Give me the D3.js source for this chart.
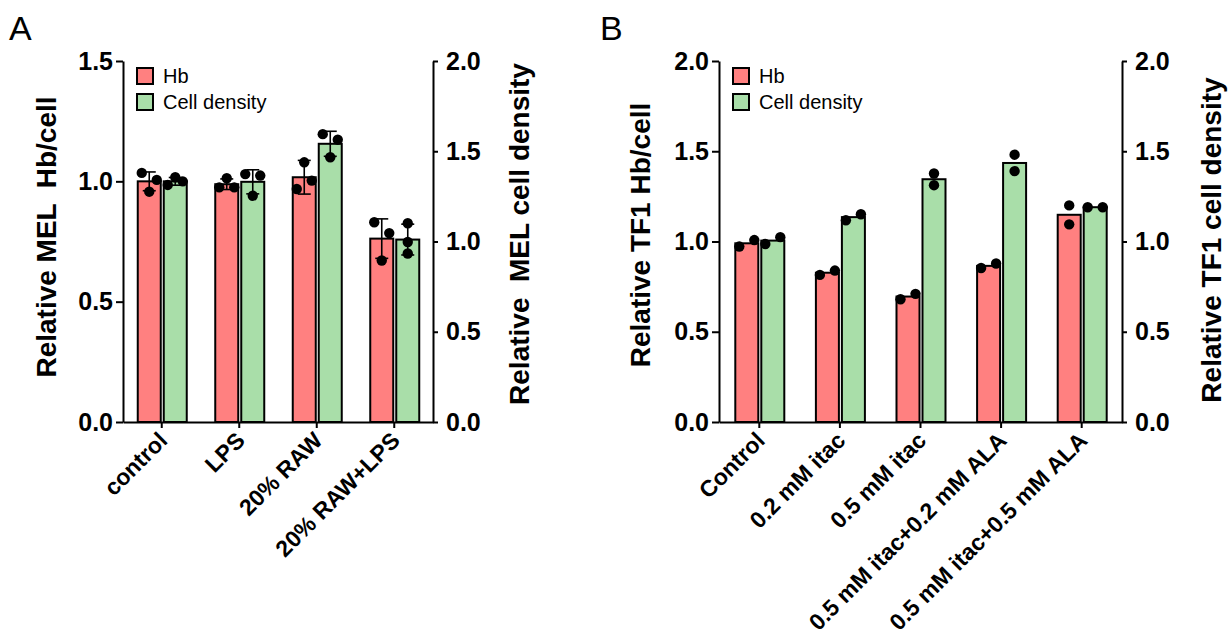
<!DOCTYPE html>
<html>
<head>
<meta charset="utf-8">
<script src="https://cdn.jsdelivr.net/npm/d3@7"></script>
<style>
  body { margin: 0; background: #fff; }
  svg { display: block; }
  text { font-family: Arial, "Liberation Sans", sans-serif; fill: #000; }
</style>
</head>
<body>
<svg id="chart" width="1230" height="639"></svg>
<script>
// ---------- Panel A: MEL cells ----------
const catsA = ["control", "LPS", "20% RAW", "20% RAW+LPS"];
const hbA = [1.000, 0.988, 1.017, 0.762];
const hbSdA = [0.039, 0.022, 0.070, 0.082];
const hbRepsA = [[1.035, 0.957, 1.006], [0.975, 1.013, 0.975], [0.968, 1.079, 1.003], [0.830, 0.671, 0.785]];
const densA = [1.000, 0.998, 1.156, 0.758];
const densSdA = [0.016, 0.050, 0.052, 0.064];
const densRepsA = [[0.985, 1.017, 1.000], [1.030, 0.940, 1.024], [1.196, 1.100, 1.173], [0.826, 0.748, 0.700]];
const ticksLeftA = [0, 0.5, 1.0, 1.5];
const ticksRightA = [0, 0.5, 1.0, 1.5, 2.0];

// ---------- Panel B: TF1 cells ----------
const catsB = ["Control", "0.2 mM itac", "0.5 mM itac", "0.5 mM itac+0.2 mM ALA", "0.5 mM itac+0.5 mM ALA"];
const hbB = [0.990, 0.827, 0.695, 0.865, 1.148];
const hbRepsB = [[0.972, 1.008], [0.815, 0.839], [0.680, 0.710], [0.853, 0.878], [1.200, 1.095]];
const densB = [1.005, 1.135, 1.345, 1.435, 1.190];
const densRepsB = [[0.986, 1.024], [1.118, 1.151], [1.377, 1.312], [1.481, 1.390], [1.190, 1.190]];
const ticksLeftB = [0, 0.5, 1.0, 1.5, 2.0];
const ticksRightB = [0, 0.5, 1.0, 1.5, 2.0];

const seriesNames = ["Hb", "Cell density"];
const seriesColors = ["#FF8080", "#A9DEA9"];

const svg = d3.select("#chart");
const FONT_TICK = 25, FONT_TITLE = 28, FONT_CAT = 23, FONT_LEG = 20;

// Spread replicate dots that sit too close vertically, GraphPad-style
function dotOffsets(pixY, minGap, spread) {
  const n = pixY.length;
  const parent = d3.range(n);
  const find = i => parent[i] === i ? i : (parent[i] = find(parent[i]));
  for (let i = 0; i < n; i++)
    for (let j = i + 1; j < n; j++)
      if (Math.abs(pixY[i] - pixY[j]) < minGap) parent[find(i)] = find(j);
  const groups = d3.group(d3.range(n), i => find(i));
  const off = new Array(n).fill(0);
  for (const members of groups.values()) {
    const m = members.length;
    if (m < 2) continue;
    members.sort((a, b) => a - b).forEach((idx, k) => {
      off[idx] = -spread + (2 * spread) * k / (m - 1);
    });
  }
  return off;
}

function drawPanel(cfg) {
  const g = svg.append("g");
  const yL = d3.scaleLinear().domain([0, cfg.maxLeft]).range([cfg.yBot, cfg.yTop]);
  const yR = d3.scaleLinear().domain([0, cfg.maxRight]).range([cfg.yBot, cfg.yTop]);
  const xb = d3.scaleBand().domain(cfg.cats).range([cfg.x0, cfg.x1]);
  const cx = c => xb(c) + xb.bandwidth() / 2;
  const barW = 23;
  const barX = [c => cx(c) - 24, c => cx(c) + 2];

  const series = [
    { vals: cfg.hb, sd: cfg.hbSd, reps: cfg.hbReps },
    { vals: cfg.dens, sd: cfg.densSd, reps: cfg.densReps }
  ];

  series.forEach((s, si) => {
    // bars
    g.selectAll(null).data(cfg.cats).enter().append("rect")
      .attr("x", c => barX[si](c))
      .attr("y", (c, i) => yL(s.vals[i]))
      .attr("width", barW)
      .attr("height", (c, i) => yL(0) - yL(s.vals[i]))
      .attr("fill", seriesColors[si])
      .attr("stroke", "#000")
      .attr("stroke-width", 2);

    // error bars (mean ± SD)
    if (s.sd) {
      cfg.cats.forEach((c, i) => {
        const xm = barX[si](c) + barW / 2;
        const yHi = yL(s.vals[i] + s.sd[i]), yLo = yL(s.vals[i] - s.sd[i]);
        const eg = g.append("g").attr("stroke", "#000").attr("stroke-width", 1.6);
        eg.append("line").attr("x1", xm).attr("x2", xm).attr("y1", yHi).attr("y2", yLo);
        eg.append("line").attr("x1", xm - 6.5).attr("x2", xm + 6.5).attr("y1", yHi).attr("y2", yHi);
        eg.append("line").attr("x1", xm - 6.5).attr("x2", xm + 6.5).attr("y1", yLo).attr("y2", yLo);
      });
    }

    // replicate dots
    cfg.cats.forEach((c, i) => {
      const xm = barX[si](c) + barW / 2;
      const py = s.reps[i].map(v => yL(v));
      const off = dotOffsets(py, 11.3, 7.5);
      g.selectAll(null).data(s.reps[i]).enter().append("circle")
        .attr("cx", (v, k) => xm + off[k])
        .attr("cy", v => yL(v))
        .attr("r", 5.2)
        .attr("fill", "#000");
    });
  });

  // axes
  const styleAxis = (sel, fs) => {
    sel.selectAll("path.domain").attr("stroke", "#000").attr("stroke-width", 2);
    sel.selectAll(".tick line").attr("stroke", "#000").attr("stroke-width", 2);
    sel.selectAll(".tick text").attr("font-size", fs).attr("font-weight", "bold")
      .attr("font-family", 'Arial, "Liberation Sans", sans-serif').attr("fill", "#000");
  };

  const axL = g.append("g").attr("transform", `translate(${cfg.x0},0)`)
    .call(d3.axisLeft(yL).tickValues(cfg.ticksLeft).tickFormat(d3.format(".1f"))
      .tickSize(7).tickSizeOuter(0).tickPadding(3));
  styleAxis(axL, FONT_TICK);

  const axR = g.append("g").attr("transform", `translate(${cfg.x1},0)`)
    .call(d3.axisRight(yR).tickValues(cfg.ticksRight).tickFormat(d3.format(".1f"))
      .tickSize(5).tickSizeOuter(0).tickPadding(8));
  styleAxis(axR, FONT_TICK);

  const axB = g.append("g").attr("transform", `translate(0,${cfg.yBot})`)
    .call(d3.axisBottom(xb).tickSize(6).tickSizeOuter(0));
  styleAxis(axB, FONT_CAT);
  axB.selectAll(".tick text")
    .attr("x", 0).attr("y", 0).attr("dy", 0)
    .attr("text-anchor", "end")
    .attr("transform", "translate(7,20) rotate(-45)");

  // axis titles
  g.append("text")
    .attr("transform", `translate(${cfg.titleLeftX},${cfg.titleLeftY}) rotate(-90)`)
    .attr("text-anchor", "middle").attr("dy", "0.35em")
    .attr("font-size", FONT_TITLE).attr("font-weight", "bold")
    .attr("xml:space", "preserve").style("white-space", "pre")
    .text(cfg.titleLeft);
  g.append("text")
    .attr("transform", `translate(${cfg.titleRightX},${cfg.titleRightY}) rotate(-90)`)
    .attr("text-anchor", "middle").attr("dy", "0.35em")
    .attr("font-size", FONT_TITLE).attr("font-weight", "bold")
    .attr("xml:space", "preserve").style("white-space", "pre")
    .text(cfg.titleRight);

  // legend
  const lg = g.append("g").attr("transform", `translate(${cfg.x0 + 14},${cfg.yTop + 7})`);
  seriesNames.forEach((name, i) => {
    lg.append("rect").attr("x", 0).attr("y", i * 26).attr("width", 16).attr("height", 16)
      .attr("fill", seriesColors[i]).attr("stroke", "#000").attr("stroke-width", 2);
    lg.append("text").attr("x", 26).attr("y", i * 26 + 8).attr("dy", "0.35em")
      .attr("font-size", FONT_LEG).text(name);
  });

  // panel letter
  svg.append("text").attr("x", cfg.letterX).attr("y", 40)
    .attr("font-size", 34).text(cfg.letter);
}

drawPanel({
  letter: "A", letterX: 9,
  cats: catsA, hb: hbA, hbSd: hbSdA, hbReps: hbRepsA,
  dens: densA, densSd: densSdA, densReps: densRepsA,
  ticksLeft: ticksLeftA, ticksRight: ticksRightA,
  maxLeft: 1.5, maxRight: 2.0,
  x0: 123, x1: 433, yTop: 61, yBot: 422,
  titleLeft: "Relative MEL  Hb/cell", titleLeftX: 46, titleLeftY: 237,
  titleRight: "Relative  MEL cell density", titleRightX: 519, titleRightY: 234
});

drawPanel({
  letter: "B", letterX: 600,
  cats: catsB, hb: hbB, hbSd: null, hbReps: hbRepsB,
  dens: densB, densSd: null, densReps: densRepsB,
  ticksLeft: ticksLeftB, ticksRight: ticksRightB,
  maxLeft: 2.0, maxRight: 2.0,
  x0: 719, x1: 1122, yTop: 61, yBot: 422,
  titleLeft: "Relative TF1 Hb/cell", titleLeftX: 640, titleLeftY: 235,
  titleRight: "Relative TF1 cell density", titleRightX: 1211, titleRightY: 240
});
</script>
</body>
</html>
